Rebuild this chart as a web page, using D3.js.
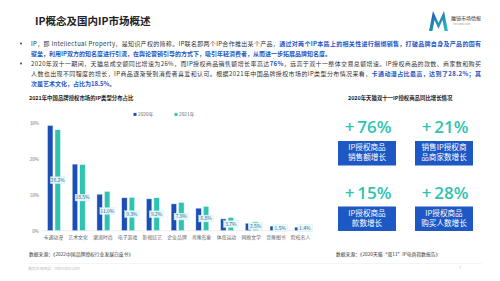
<!DOCTYPE html>
<html><head><meta charset="utf-8">
<script src="https://cdn.jsdelivr.net/npm/d3@7"></script>
<style>
html,body{margin:0;padding:0;background:#fff;}
svg{display:block;font-family:"Noto Sans CJK SC","Noto Sans",sans-serif;}
</style></head>
<body>
<script>
const categories = ['卡通动漫','艺术文化','潮流时尚','电子游戏','影视综艺','企业品牌','肖像形象','体育运动','网络文学','音像图书','院校名人'];
const values2020 = [29.4, 18.6, 10.2, 9.2, 8.9, 7.5, 6.3, 3.3, 2.1, 1.3, 1.0];
const values2021 = [28.2, 18.5, 11.0, 9.3, 9.2, 7.9, 6.8, 3.7, 2.5, 1.5, 1.4];
const seriesNames = ['2020年','2021年'];
const yTicks = [0, 10, 20, 30];
const growthValues = ['+76%','+21%','+15%','+28%'];
const growthLabels = [['IP授权商品','销售额增长'],['销售IP授权商','品商家数增长'],['IP授权商品','款数增长'],['IP授权商品','购买人数增长']];

const W = 500, H = 281;
const BLUE = '#1b4fb8', TEAL = '#2fc3b1', DARK = '#333';
const svg = d3.select('body').append('svg').attr('width', W).attr('height', H);

// Header
svg.append('text').attr('x', 35).attr('y', 25).attr('font-size', 10.5).attr('font-weight', 700)
  .attr('fill', '#222').text('IP概念及国内IP市场概述');

// Logo
const grad = svg.append('defs').append('linearGradient').attr('id','lg').attr('x1','0').attr('y1','0').attr('x2','1').attr('y2','1');
grad.append('stop').attr('offset','0%').attr('stop-color','#1c4fb5');
grad.append('stop').attr('offset','100%').attr('stop-color','#2fc3c0');
svg.append('path').attr('d','M429,31 L433,11 L438.5,23 L444,11 L448,31 L444.5,31 L442.5,20 L438.5,29 L434.5,20 L432.5,31 Z')
  .attr('fill','url(#lg)');
svg.append('text').attr('x', 451).attr('y', 20).attr('font-size', 5).attr('fill', '#333').text('魔镜市场情报');
svg.append('text').attr('x', 453).attr('y', 25).attr('font-size', 2.4).attr('fill', '#999').text('MKTINDEX.COM');

// Bullet paragraphs
const lines = [
  {y: 45.5, bullet: true, fit: true, segs: [['IP，即 Intellectual Property，是知识产权的简称。IP联名即两个IP合作推出某个产品，', 0], ['通过对两个IP本质上的相关性进行捆绑销售，打破品牌自身及产品的固有', 1]]},
  {y: 55.5, fit: false, segs: [['壁垒，利用IP双方的知名度进行引流，在舆论营销引导的方式下，吸引年轻消费者，从而进一步拓展品牌知名度。', 1]]},
  {y: 65.5, bullet: true, fit: true, segs: [['2020年双十一期间，天猫总成交额同比增速为26%，而IP授权商品销售额增长率高达', 0], ['76%', 1], ['，远高于双十一整体交易总额增速。IP授权商品的款数、商家数和购买', 0]]},
  {y: 75.5, fit: true, segs: [['人数也出现不同程度的增长，IP商品逐渐受到消费者喜爱和认可。根据2021年中国品牌授权市场的IP类型分布情况来看，', 0], ['卡通动漫占比最高，达到了28.2%；其', 1]]},
  {y: 85.5, fit: false, segs: [['次是艺术文化，占比为18.5%。', 1]]}
];
lines.forEach(l => {
  if (l.bullet) svg.append('circle').attr('cx', 21).attr('cy', l.y - 2).attr('r', 0.9).attr('fill', '#333');
  const t = svg.append('text').attr('x', 31).attr('y', l.y).attr('font-size', 6);
  l.segs.forEach(s => t.append('tspan').text(s[0]).attr('fill', s[1] ? '#1f56c2' : DARK).attr('font-weight', s[1] ? 700 : 400));
  if (l.fit) {
    const w = t.node().getComputedTextLength();
    const n = l.segs.map(s => s[0]).join('').length;
    t.attr('letter-spacing', ((450 - w) / (n - 1)).toFixed(3));
  }
});

// Section titles
svg.append('text').attr('x', 29).attr('y', 100).attr('font-size', 5.4).attr('font-weight', 700).attr('fill', '#222')
  .text('2021年中国品牌授权市场的IP类型分布占比');
svg.append('text').attr('x', 348).attr('y', 100).attr('font-size', 5.4).attr('font-weight', 700).attr('fill', '#222')
  .text('2020年天猫双十一IP授权商品同比增长情况');

// Bar chart
const x = d3.scaleBand().domain(categories).range([41, 313]).paddingInner(0).paddingOuter(0);
const y = d3.scaleLinear().domain([0, 30]).range([230.7, 123.3]);
const g = svg.append('g');
g.append('line').attr('x1', 41).attr('x2', 313).attr('y1', y(0)).attr('y2', y(0)).attr('stroke', '#e3e3e3').attr('stroke-width', 0.6);

const yAxis = g.append('g').attr('transform', 'translate(39,0)')
  .call(d3.axisLeft(y).tickValues(yTicks).tickFormat(d => d + '%').tickSize(0).tickPadding(0));
yAxis.select('.domain').remove();
yAxis.selectAll('text').attr('font-size', 4.6).attr('fill', '#777').attr('font-family', '"Noto Sans CJK SC",sans-serif');

const xAxis = g.append('g').attr('transform', `translate(0,${y(0)})`)
  .call(d3.axisBottom(x).tickSize(0).tickPadding(4.5));
xAxis.select('.domain').remove();
xAxis.selectAll('text').attr('font-size', 4.9).attr('fill', '#666').attr('font-family', '"Noto Sans CJK SC",sans-serif');

const cx = d => x(d) + x.bandwidth() / 2 + 0.6;
g.selectAll('.b20').data(categories).join('rect').attr('class','b20')
  .attr('x', d => cx(d) - 6.5).attr('width', 5.5)
  .attr('y', (d, i) => y(values2020[i])).attr('height', (d, i) => y(0) - y(values2020[i]))
  .attr('fill', BLUE).attr('stroke', '#eef3fb').attr('stroke-width', 0.5);
g.selectAll('.b21').data(categories).join('rect').attr('class','b21')
  .attr('x', d => cx(d) + 1).attr('width', 5.5)
  .attr('y', (d, i) => y(values2021[i])).attr('height', (d, i) => y(0) - y(values2021[i]))
  .attr('fill', TEAL).attr('stroke', '#effbf9').attr('stroke-width', 0.5);

const lab = g.selectAll('.lab').data(categories).join('g').attr('class','lab')
  .attr('transform', (d, i) => `translate(${cx(d) + 3.75},${(y(values2021[i]) + y(0)) / 2})`);
lab.append('rect').attr('x', -7.3).attr('y', -3.4).attr('width', 14.6).attr('height', 6.8)
  .attr('fill', '#ecfaf8').attr('fill-opacity', 0.95).attr('stroke', '#c6efe8').attr('stroke-width', 0.4);
lab.append('text').attr('text-anchor', 'middle').attr('dy', '0.35em').attr('font-size', 4.9)
  .attr('fill', '#2d64ab').text((d, i) => values2021[i].toFixed(1) + '%');

// Legend
const leg = svg.append('g').attr('transform', 'translate(0,114.5)');
seriesNames.forEach((s, i) => {
  const lx = i === 0 ? 133.5 : 174.5;
  leg.append('rect').attr('x', lx).attr('y', -1.6).attr('width', 3).attr('height', 3).attr('fill', i === 0 ? BLUE : TEAL);
  leg.append('text').attr('x', lx + 4.5).attr('y', 0).attr('dy', '0.35em').attr('font-size', 4.8).attr('fill', '#666').text(s);
});

// Growth panel
const cells = [[367, 0], [444, 0], [367, 1], [444, 1]];
growthValues.forEach((v, i) => {
  const [cxp, row] = cells[i];
  const base = row === 0 ? 132.5 : 198.5;
  svg.append('text').attr('x', cxp + 1).attr('y', base).attr('text-anchor', 'middle').attr('font-size', 17)
    .attr('font-weight', 600).attr('fill', TEAL).attr('font-family', '"Open Sans","Noto Sans",sans-serif')
    .text(v.replace('+', '+\u2009'));
  const by = row === 0 ? 141 : 206.5;
  svg.append('rect').attr('x', cxp - 29).attr('y', by).attr('width', 58).attr('height', 24.5).attr('fill', '#1e58c4');
  growthLabels[i].forEach((t, j) => {
    svg.append('text').attr('x', cxp).attr('y', by + 8.3 + j * 10).attr('text-anchor', 'middle')
      .attr('font-size', 7.6).attr('fill', '#fff').attr('dy', '0.1em').text(t);
  });
});

// Sources
svg.append('text').attr('x', 29).attr('y', 256).attr('font-size', 4.8).attr('fill', '#333')
  .text('数据来源：《2022中国品牌授权行业发展白皮书》');
svg.append('text').attr('x', 336).attr('y', 256).attr('font-size', 4.8).attr('fill', '#333')
  .text('数据来源：《2020天猫“双11”IP电商指数报告》');

// Footer
svg.append('line').attr('x1', 28).attr('x2', 482).attr('y1', 263.5).attr('y2', 263.5).attr('stroke', '#eeeeee').attr('stroke-width', 0.6);
svg.append('text').attr('x', 28).attr('y', 269.5).attr('font-size', 3.8).attr('fill', '#c4c4c4').text('魔镜市场情报：mktindex.com');
svg.append('text').attr('x', 459).attr('y', 269).attr('font-size', 3.8).attr('fill', '#c4c4c4').text('7');
</script>
</body></html>
